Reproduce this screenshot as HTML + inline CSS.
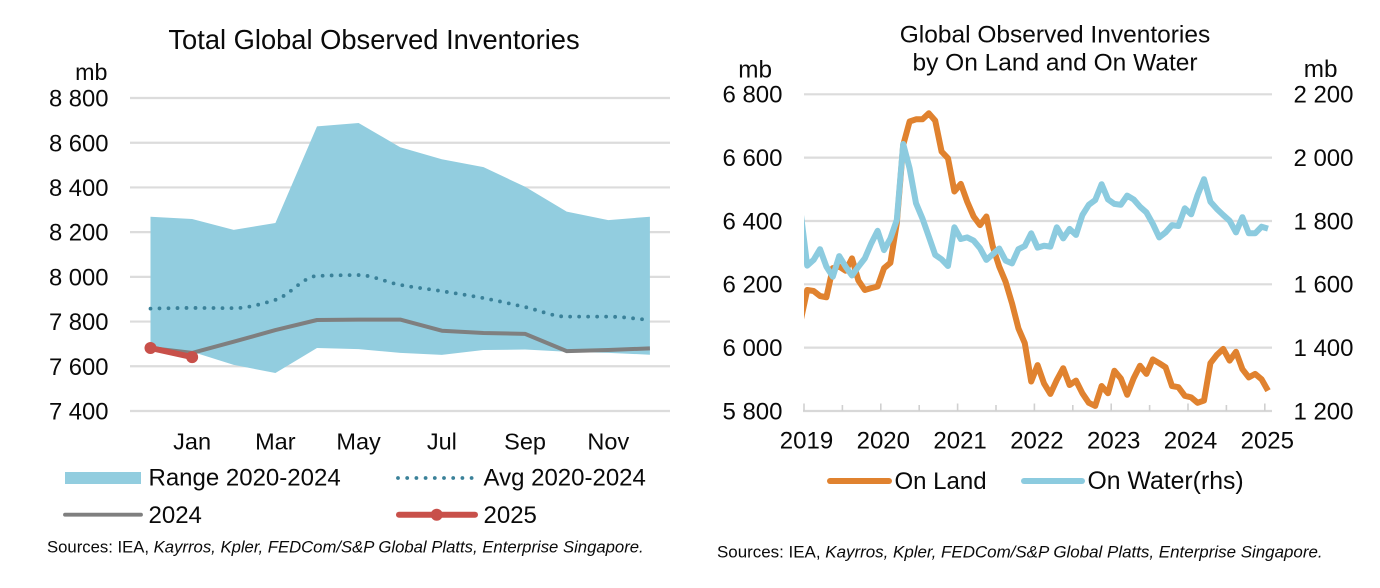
<!DOCTYPE html>
<html lang="en">
<head>
<meta charset="utf-8">
<title>Global Observed Inventories</title>
<style>
html,body{margin:0;padding:0;background:#fff;width:1380px;height:588px;overflow:hidden}
svg{display:block}
text{font-family:"Liberation Sans",Arial,sans-serif;fill:#0a0a0a}
</style>
</head>
<body>
<svg id="chart" xmlns="http://www.w3.org/2000/svg" width="1380" height="588" viewBox="0 0 1380 588">
<defs><clipPath id="right-clip"><rect x="804" y="60" width="480" height="360"/></clipPath></defs>
<g id="left">
<text x="374" y="49" font-size="27.3" text-anchor="middle">Total Global Observed Inventories</text>
<text x="107.5" y="80" font-size="23.3" text-anchor="end">mb</text>
</g>
<g id="right">
<text x="1055" y="42.5" font-size="24.5" text-anchor="middle">Global Observed Inventories</text>
<text x="1055" y="70.5" font-size="24.5" text-anchor="middle">by On Land and On Water</text>
<text x="772" y="77.5" font-size="24.3" text-anchor="end">mb</text>
<text x="1337.5" y="77" font-size="24.3" text-anchor="end">mb</text>
</g>
<g id="legends">
<g>
<rect x="65" y="472" width="76" height="12" fill="#92CDDF"/>
<text x="148.5" y="485.7" font-size="24">Range 2020-2024</text>
</g>
<g>
<line x1="398" y1="478" x2="472" y2="478" stroke="#3A8199" stroke-width="3.8" stroke-linecap="round" stroke-dasharray="0 9.2"/>
<text x="483.5" y="485.7" font-size="24">Avg 2020-2024</text>
</g>
<g>
<line x1="65" y1="514.7" x2="141" y2="514.7" stroke="#7F7F7F" stroke-width="3.8" stroke-linecap="round"/>
<text x="148.5" y="523" font-size="24">2024</text>
</g>
<g>
<line x1="399" y1="514.7" x2="475" y2="514.7" stroke="#C8504A" stroke-width="6" stroke-linecap="round"/>
<circle cx="436.7" cy="514.7" r="6" fill="#C8504A"/>
<text x="483.5" y="523" font-size="24">2025</text>
</g>
<g>
<line x1="830" y1="481" x2="889" y2="481" stroke="#E0822F" stroke-width="6" stroke-linecap="round"/>
<text x="894.5" y="489" font-size="24">On Land</text>
</g>
<g>
<line x1="1024" y1="481" x2="1082" y2="481" stroke="#8CCBDF" stroke-width="6" stroke-linecap="round"/>
<text x="1087.5" y="489" font-size="24.8">On Water(rhs)</text>
</g>
</g>
<text x="47" y="552.7" font-size="16.7">Sources: IEA, <tspan font-style="italic">Kayrros, Kpler, FEDCom/S&amp;P Global Platts, Enterprise Singapore.</tspan></text>
<text x="717" y="557.5" font-size="16.95">Sources: IEA, <tspan font-style="italic">Kayrros, Kpler, FEDCom/S&amp;P Global Platts, Enterprise Singapore.</tspan></text>
</svg>
<script>
// ---- Left chart data ----
const leftMonths = ["Dec","Jan","Feb","Mar","Apr","May","Jun","Jul","Aug","Sep","Oct","Nov","Dec+"];
const leftTickMonths = ["Jan","Mar","May","Jul","Sep","Nov"];
const leftYTicks = [7400,7600,7800,8000,8200,8400,8600,8800];
const rangeHigh = [8269,8259,8210,8241,8673,8688,8580,8526,8491,8403,8292,8254,8269];
const rangeLow = [7680,7665,7606,7570,7682,7677,7660,7651,7673,7675,7665,7660,7652];
const avg2020to2024 = [7858,7861,7860,7897,8004,8008,7964,7936,7905,7865,7822,7822,7807];
const series2024 = [7682,7660,7710,7762,7807,7809,7809,7759,7749,7745,7668,7673,7680];
const series2025 = [7682,7641];

// ---- Right chart data (mid-month values, first value lies left of the axis) ----
const onLand = [6087,6182,6179,6163,6159,6251,6256,6243,6282,6212,6182,6188,6193,6251,6268,6393,6640,6714,6721,6721,6740,6717,6619,6598,6493,6517,6461,6414,6387,6414,6319,6256,6208,6140,6061,6014,
5893,5945,5887,5854,5898,5935,5882,5896,5856,5826,5816,5879,5856,5927,5903,5851,5903,5943,5917,5963,5951,5938,5879,5875,5848,5843,5826,5833,5951,5977,5996,5959,5987,5932,5906,5917,5900,5864];
const onWater = [1824,1659,1677,1711,1656,1624,1689,1656,1628,1656,1682,1729,1769,1708,1745,1803,2043,1966,1856,1808,1751,1693,1679,1658,1780,1743,1748,1738,1714,1677,1695,1713,1675,1666,1711,1721,
1761,1716,1722,1719,1780,1745,1775,1756,1819,1851,1866,1916,1868,1854,1851,1880,1868,1845,1827,1791,1748,1764,1787,1784,1840,1821,1882,1932,1861,1838,1819,1801,1764,1812,1761,1761,1782,1776];
const rightYears = ["2019","2020","2021","2022","2023","2024","2025"];
const rightLeftTicks = [5800,6000,6200,6400,6600,6800];
const rightRightTicks = [1200,1400,1600,1800,2000,2200];

const NS = "http://www.w3.org/2000/svg";
function make(parent, tag, attrs, txt){
  const el = document.createElementNS(NS, tag);
  for (const k in attrs) el.setAttribute(k, attrs[k]);
  if (txt !== undefined) el.textContent = txt;
  parent.appendChild(el);
  return el;
}
function fmt(v){ const s = String(v); return s.slice(0, s.length-3) + " " + s.slice(-3); }

// ---- Left axes ----
const left = document.getElementById("left");
const lx = i => 150.5 + i * 41.62;
const ly = v => 411 - (v - 7400) * 313 / 1400;
const lPts = a => a.map((v,i) => lx(i).toFixed(1) + "," + ly(v).toFixed(1));

leftYTicks.forEach(t => {
  const g = make(left, "line", {x1:130, x2:670, y1:ly(t), y2:ly(t), stroke:"#DCDCDC", "stroke-width":2.2});
  
  
  const l = make(left, "text", {x:108.5, y:ly(t)+8.6, "font-size":23.8, "text-anchor":"end"}, fmt(t));
  
  
});
leftTickMonths.forEach(m => {
  const l = make(left, "text", {x:lx(leftMonths.indexOf(m)), y:449.5, "font-size":23.5, "text-anchor":"middle"}, m);
  
  
});

// range band
const bandPts = lPts(rangeHigh).concat(lPts(rangeLow).reverse()).join(" ");
const band = make(left, "polygon", {points:bandPts, fill:"#92CDDF"});



// smoothed average path (monotone cubic, no overshoot at flat tops)
function smooth(pts){
  const n = pts.length, s = [], m = [];
  for (let i = 0; i < n-1; i++) s.push((pts[i+1][1]-pts[i][1])/(pts[i+1][0]-pts[i][0]));
  m[0] = s[0]; m[n-1] = s[n-2];
  for (let i = 1; i < n-1; i++) m[i] = s[i-1]*s[i] <= 0 ? 0 : 2*s[i-1]*s[i]/(s[i-1]+s[i]);
  let d = "M" + pts[0][0] + " " + pts[0][1];
  for (let i = 0; i < n-1; i++){
    const h = (pts[i+1][0]-pts[i][0])/3;
    d += "C" + (pts[i][0]+h) + " " + (pts[i][1]+m[i]*h) + " " + (pts[i+1][0]-h) + " " + (pts[i+1][1]-m[i+1]*h) + " " + pts[i+1][0] + " " + pts[i+1][1];
  }
  return d;
}
const avgLine = make(left, "path", {d:smooth(avg2020to2024.map((v,i)=>[lx(i),ly(v)])), fill:"none", stroke:"#3A8199", "stroke-width":3.8, "stroke-linecap":"round", "stroke-dasharray":"0 9"});



const line24 = make(left, "polyline", {points:lPts(series2024).join(" "), fill:"none", stroke:"#7F7F7F", "stroke-width":4, "stroke-linejoin":"round"});



const line25 = make(left, "polyline", {points:lPts(series2025).join(" "), fill:"none", stroke:"#C8504A", "stroke-width":6, "stroke-linecap":"round"});


series2025.forEach((v,i) => {
  const c = make(left, "circle", {cx:lx(i), cy:ly(v), r:6, fill:"#C8504A"});
  
  
});

// ---- Right axes ----
const right = document.getElementById("right");
const rMonth = 6.4;
const rx = i => 804 + (i - 0.5) * rMonth;
const ryL = v => 411 - (v - 5800) * 316.7 / 1000;
const ryR = v => 411 - (v - 1200) * 316.7 / 1000;

rightLeftTicks.forEach((t,i) => {
  if (t !== 5800){
    const g = make(right, "line", {x1:804, x2:1272, y1:ryL(t), y2:ryL(t), stroke:"#DCDCDC", "stroke-width":2.2});
    
    
  }
  const l = make(right, "text", {x:782.5, y:ryL(t)+8.3, "font-size":24, "text-anchor":"end"}, fmt(t));
  
  
  const r = make(right, "text", {x:1353.5, y:ryL(t)+8.3, "font-size":24, "text-anchor":"end"}, fmt(rightRightTicks[i]));
  
  
});
const baseAxis = make(right, "line", {x1:803, x2:1272, y1:411, y2:411, stroke:"#D8D8D8", "stroke-width":2.2});


for (let m = 0; m <= 72; m += 6){
  const x = 804 + m * rMonth;
  const tick = make(right, "line", {x1:x, x2:x, y1:411, y2:m % 12 === 0 ? 403.5 : 405, stroke:"#D0D0D0", "stroke-width":1.6});
  
  
}
rightYears.forEach((y,i) => {
  const l = make(right, "text", {x:806.5 + i * 12 * rMonth, y:448.5, "font-size":24, "text-anchor":"middle"}, y);
  
  
});
const landLine = make(right, "polyline", {points:onLand.map((v,i)=>rx(i).toFixed(1)+","+ryL(v).toFixed(1)).join(" "), fill:"none", stroke:"#E0822F", "stroke-width":6, "stroke-linejoin":"round", "clip-path":"url(#right-clip)"});


const waterLine = make(right, "polyline", {points:onWater.map((v,i)=>rx(i).toFixed(1)+","+ryR(v).toFixed(1)).join(" "), fill:"none", stroke:"#8CCBDF", "stroke-width":6, "stroke-linejoin":"round", "clip-path":"url(#right-clip)"});


</script>
</body>
</html>
